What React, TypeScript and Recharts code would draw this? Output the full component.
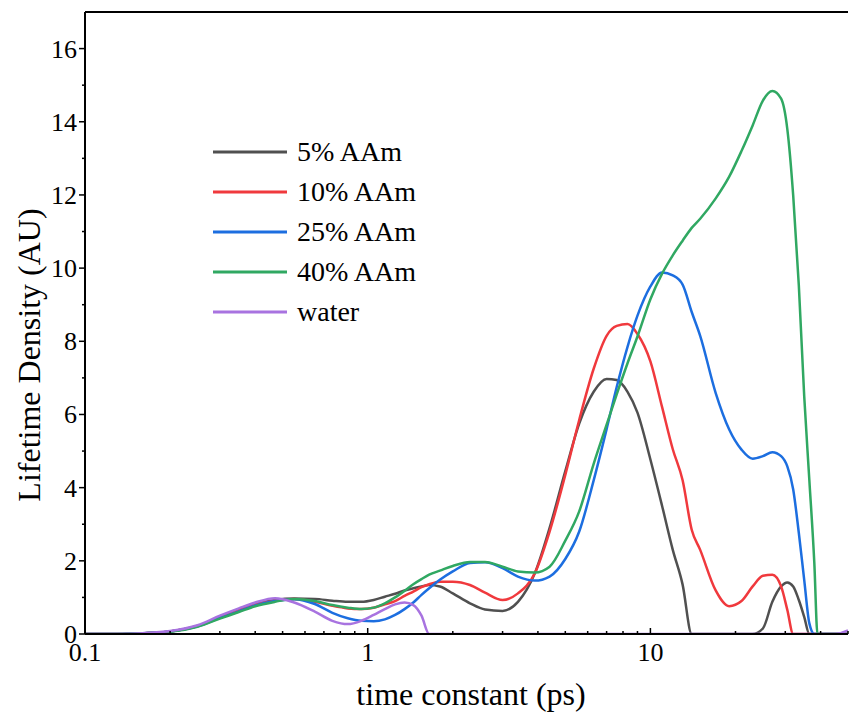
import { LineChart, Line, XAxis, YAxis, ReferenceLine, Legend, Label } from "recharts";

// time constant grid (ps)
const tau = [
  0.1, 0.13, 0.16, 0.2, 0.25, 0.3, 0.35, 0.4, 0.47, 0.55,
  0.65, 0.75, 0.85, 0.95, 1.05, 1.15, 1.25, 1.35, 1.45, 1.55,
  1.65, 1.8, 2.0, 2.3, 2.6, 3.0, 3.4, 3.9, 4.4, 5.0,
  5.6, 6.3, 7.0, 7.6, 8.3, 9.0, 10, 11, 12, 13,
  14, 15, 17, 19, 21, 23, 25, 27, 29, 30.5,
  32, 33.5, 35, 36.5, 38, 39, 40, 45, 50,
];

const aam5 = [
  0, 0, 0.02, 0.07, 0.22, 0.46, 0.65, 0.82, 0.93, 0.97,
  0.96, 0.91, 0.88, 0.88, 0.93, 1.02, 1.1, 1.19, 1.25, 1.3,
  1.34, 1.3, 1.11, 0.84, 0.67, 0.63, 0.88, 1.66, 2.9, 4.45,
  5.75, 6.62, 6.97, 6.94, 6.62, 6.05, 4.77, 3.5, 2.3, 1.35,
  0, 0, 0, 0, 0, 0, 0.15, 0.88, 1.3, 1.41,
  1.3, 0.93, 0.47, 0, 0, 0, 0, 0, 0,
];

const aam10 = [
  0, 0, 0.02, 0.07, 0.22, 0.45, 0.64, 0.8, 0.91, 0.96,
  0.88, 0.77, 0.7, 0.68, 0.72, 0.81, 0.9, 1.04, 1.16, 1.28,
  1.36, 1.43, 1.43, 1.34, 1.13, 0.93, 1.11, 1.66, 2.8, 4.35,
  5.85, 7.25, 8.15, 8.42, 8.47, 8.2, 7.45, 6.2, 5.05, 4.2,
  2.85, 2.3, 1.2, 0.76, 0.9, 1.3, 1.59, 1.62, 1.3, 0.66,
  0, 0, 0, 0, 0, 0, 0, 0, 0,
];

const aam25 = [
  0, 0, 0.02, 0.07, 0.21, 0.44, 0.62, 0.78, 0.9, 0.95,
  0.82, 0.58, 0.43, 0.36, 0.35, 0.4, 0.52, 0.68, 0.86, 1.07,
  1.25, 1.48, 1.71, 1.94, 1.96, 1.8, 1.57, 1.46, 1.57, 2.05,
  2.8, 4.2, 5.6, 6.75, 7.85, 8.7, 9.5, 9.88, 9.8, 9.55,
  8.8, 8.15, 6.6, 5.59, 5.04, 4.79, 4.86, 4.97, 4.86, 4.58,
  3.95, 2.76, 1.48, 0.29, 0, 0, 0, 0, 0,
];

const aam40 = [
  0, 0, 0.02, 0.06, 0.2, 0.42, 0.6, 0.76, 0.88, 0.96,
  0.9, 0.79, 0.72, 0.68, 0.72, 0.84, 1.0, 1.18, 1.36, 1.5,
  1.62, 1.73, 1.86, 1.97, 1.97, 1.84, 1.71, 1.68, 1.84, 2.55,
  3.35, 4.65, 5.72, 6.55, 7.4, 8.13, 9.15, 9.85, 10.35, 10.75,
  11.1, 11.35, 11.9, 12.5, 13.2, 13.9, 14.58, 14.84, 14.63, 13.8,
  11.98, 9.52, 6.5, 4.2, 1.95, 0, 0, 0, 0,
];

const water = [
  0, 0, 0.02, 0.08, 0.24, 0.5, 0.7, 0.86, 0.98, 0.86,
  0.61, 0.36, 0.27, 0.36, 0.52, 0.68, 0.81, 0.86, 0.79, 0.5,
  0, 0, 0, 0, 0, 0, 0, 0, 0, 0,
  0, 0, 0, 0, 0, 0, 0, 0, 0, 0,
  0, 0, 0, 0, 0, 0, 0, 0, 0, 0,
  0, 0, 0, 0, 0, 0, 0, 0, 0.1,
];

const seriesNames = ["5% AAm", "10% AAm", "25% AAm", "40% AAm", "water"];
const seriesKeys = ["aam5", "aam10", "aam25", "aam40", "water"];
const seriesColors = ["#505050", "#f0393d", "#1c6ee0", "#30a862", "#a873e0"];
const seriesValues = [aam5, aam10, aam25, aam40, water];

const xTicks = [
  0.1, 0.2, 0.3, 0.4, 0.5, 0.6, 0.7, 0.8, 0.9,
  1, 2, 3, 4, 5, 6, 7, 8, 9,
  10, 20, 30, 40, 50,
];
const xLabels = [0.1, 1, 10];
const yTicks = [0, 1, 2, 3, 4, 5, 6, 7, 8, 9, 10, 11, 12, 13, 14, 15, 16];

const data = tau.map((t, i) => {
  const row: Record<string, number> = { tau: t };
  seriesKeys.forEach((k, j) => (row[k] = seriesValues[j][i]));
  return row;
});

const FONT = "'Liberation Serif', 'Times New Roman', serif";

const XTick = (props: any) => {
  const { x, y, payload } = props;
  const major = xLabels.includes(payload.value);
  return (
    <g>
      <line x1={x} x2={x} y1={y} y2={y - (major ? 6 : 3)} stroke="#000" strokeWidth={1.5} />
      {major && (
        <text x={x} y={y + 27} textAnchor="middle" fontSize={26} fontFamily={FONT} fill="#000">
          {payload.value}
        </text>
      )}
    </g>
  );
};

const YTick = (props: any) => {
  const { x, y, payload } = props;
  const major = payload.value % 2 === 0;
  return (
    <g>
      <line x1={x} x2={x - (major ? 6 : 3)} y1={y} y2={y} stroke="#000" strokeWidth={1.5} />
      {major && (
        <text x={x - 8} y={y + 9} textAnchor="end" fontSize={26} fontFamily={FONT} fill="#000">
          {payload.value}
        </text>
      )}
    </g>
  );
};

const LegendBox = () => (
  <div>
    {seriesNames.map((name, i) => (
      <div key={name} style={{ display: "flex", alignItems: "center", height: 40 }}>
        <svg width={76} height={6} style={{ display: "block" }}>
          <line x1={0} x2={74} y1={3} y2={3} stroke={seriesColors[i]} strokeWidth={3} />
        </svg>
        <span style={{ fontFamily: FONT, fontSize: 28, marginLeft: 8, color: "#000", lineHeight: "40px" }}>
          {name}
        </span>
      </div>
    ))}
  </div>
);

export default function App() {
  return (
    <div style={{ position: "absolute", left: 0, top: 0, background: "#fff" }}>
      <LineChart width={849} height={715} data={data} margin={{ top: 12, right: 1, bottom: 0, left: 0 }}>
        <XAxis
          dataKey="tau"
          type="number"
          scale="log"
          domain={[0.1, 50]}
          allowDataOverflow
          ticks={xTicks}
          interval={0}
          tick={XTick}
          tickLine={false}
          tickSize={0}
          tickMargin={0}
          height={81}
          axisLine={{ stroke: "#000", strokeWidth: 2 }}
        >
          <Label
            content={() => (
              <text x={471} y={705} textAnchor="middle" fontSize={32} fontFamily={FONT} fill="#000">
                time constant (ps)
              </text>
            )}
          />
        </XAxis>
        <YAxis
          type="number"
          domain={[0, 17]}
          allowDataOverflow
          ticks={yTicks}
          interval={0}
          tick={YTick}
          tickLine={false}
          tickSize={0}
          tickMargin={0}
          width={85}
          axisLine={{ stroke: "#000", strokeWidth: 2 }}
        >
          <Label
            content={() => (
              <text
                x={40}
                y={355}
                transform="rotate(-90 40 355)"
                textAnchor="middle"
                fontSize={32}
                fontFamily={FONT}
                fill="#000"
              >
                Lifetime Density (AU)
              </text>
            )}
          />
        </YAxis>
        <ReferenceLine y={17} stroke="#000" strokeWidth={2} />
        <Legend
          layout="vertical"
          align="center"
          verticalAlign="middle"
          wrapperStyle={{ left: 213, top: 132, width: 240 }}
          content={LegendBox}
        />
        {seriesKeys.map((k, i) => (
          <Line
            key={k}
            type="monotone"
            dataKey={k}
            name={seriesNames[i]}
            stroke={seriesColors[i]}
            strokeWidth={2.5}
            dot={false}
            activeDot={false}
            isAnimationActive={false}
          />
        ))}
      </LineChart>
    </div>
  );
}
